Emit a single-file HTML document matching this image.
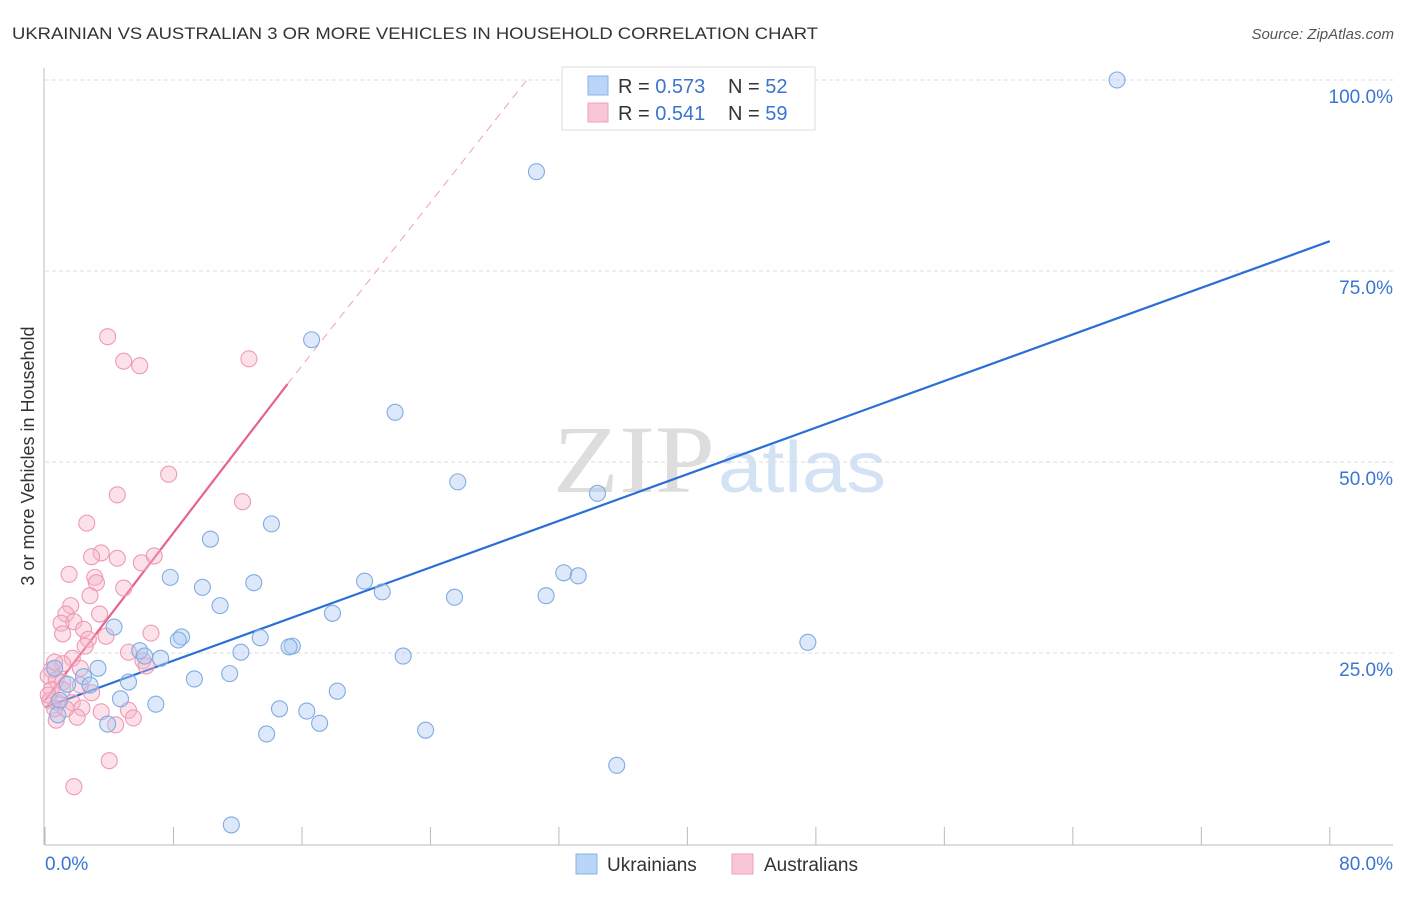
<!DOCTYPE html>
<html><head><meta charset="utf-8"><style>
body{margin:0;background:#fff;font-family:"Liberation Sans",sans-serif}
svg text{font-family:"Liberation Sans",sans-serif}
</style></head><body>
<svg id="chart" width="1406" height="892">
<text x="12" y="39" font-size="17" fill="#333" textLength="806" lengthAdjust="spacingAndGlyphs">UKRAINIAN VS AUSTRALIAN 3 OR MORE VEHICLES IN HOUSEHOLD CORRELATION CHART</text>
<text x="1394" y="39" font-size="15" fill="#555" font-style="italic" text-anchor="end">Source: ZipAtlas.com</text>
<g>
<text x="553" y="492" font-size="96" fill="#ddd" textLength="162" lengthAdjust="spacingAndGlyphs" style="font-family:'Liberation Serif',serif">ZIP</text>
<text x="718" y="492" font-size="72" fill="#d3e2f4" textLength="168" lengthAdjust="spacingAndGlyphs">atlas</text>
</g>
<g id="grid"></g>
<g id="axes"></g>
<g id="lines"></g>
<g id="pts"></g>
<text transform="translate(34,456) rotate(-90)" font-size="18" fill="#333" text-anchor="middle">3 or more Vehicles in Household</text>
<g>
<rect x="562" y="67" width="253" height="63" fill="#fff" stroke="#ddd"/>
<rect x="588" y="76" width="20" height="19" fill="#b8d4f6" stroke="#8ab4e8"/>
<rect x="588" y="103" width="20" height="19" fill="#f9c6d5" stroke="#f0a0b8"/>
<text x="618" y="93" font-size="20" fill="#333">R = <tspan fill="#3a75d0">0.573</tspan><tspan x="728">N = </tspan><tspan fill="#3a75d0">52</tspan></text>
<text x="618" y="120" font-size="20" fill="#333">R = <tspan fill="#3a75d0"> 0.541</tspan><tspan x="728">N = </tspan><tspan fill="#3a75d0">59</tspan></text>
</g>
<g>
<rect x="576" y="854" width="21" height="20" fill="#b8d4f6" stroke="#8ab4e8"/>
<text x="607" y="871" font-size="19" fill="#333">Ukrainians</text>
<rect x="732" y="854" width="21" height="20" fill="#f9c6d5" stroke="#f0a0b8"/>
<text x="764" y="871" font-size="19" fill="#333">Australians</text>
</g>
</svg>
<script>
const blueX=[66.75,30.6,16.6,21.8,25.7,34.4,14.1,10.3,7.8,9.8,13.0,19.9,21.0,32.3,33.2,25.5,31.2,10.9,17.9,4.3,8.5,8.3,13.4,15.4,15.2,12.2,5.9,7.2,6.2,22.3,47.5,3.3,2.4,5.2,2.8,9.3,11.5,18.2,4.7,6.9,14.6,16.3,13.8,17.1,23.7,3.9,35.6,11.6,0.6,0.9,0.8,1.4];
const blueY=[100.0,88.0,66.0,56.5,47.4,45.9,41.9,39.9,34.9,33.6,34.2,34.4,33.0,35.5,35.1,32.3,32.5,31.2,30.2,28.4,27.1,26.7,27.0,25.9,25.8,25.1,25.3,24.3,24.6,24.6,26.4,23.0,21.9,21.2,20.8,21.6,22.3,20.0,19.0,18.3,17.7,17.4,14.4,15.8,14.9,15.7,10.3,2.5,23.0,18.8,16.9,20.9];
const pinkX=[3.9,4.9,5.9,12.7,7.7,4.5,12.3,2.6,3.5,2.9,4.5,6.8,6.0,1.5,3.1,3.2,4.9,2.8,1.6,1.3,3.4,1.8,1.0,2.4,6.6,1.1,3.8,2.7,2.5,5.2,1.7,1.1,6.1,6.3,2.2,0.4,0.2,0.7,1.1,2.9,0.4,0.3,0.8,1.7,2.3,3.5,5.2,2.0,5.5,0.7,4.4,4.0,1.8,0.6,0.2,1.1,0.6,1.3,2.2];
const pinkY=[66.4,63.2,62.6,63.5,48.4,45.7,44.8,42.0,38.1,37.6,37.4,37.7,36.8,35.3,34.9,34.2,33.5,32.5,31.2,30.1,30.1,29.1,28.9,28.1,27.6,27.5,27.2,26.8,25.9,25.1,24.3,23.6,24.0,23.3,23.0,22.8,22.0,21.5,21.2,19.8,20.2,18.8,18.5,18.5,17.8,17.3,17.5,16.6,16.5,16.2,15.6,10.9,7.5,23.8,19.5,20.2,17.7,17.7,20.8];
const blueTrend=[[0,17.9],[80,78.9]];
const pinkTrend=[[0,18.8],[15.1,60.2]];
const pinkDash=[[15.1,60.2],[30,100]];
const yTicks=[25,50,75,100];
const yTickLabels=["25.0%","50.0%","75.0%","100.0%"];
const xTicks=[0,8,16,24,32,40,48,56,64,72,80];
const NS="http://www.w3.org/2000/svg";
const sx=v=>45+v*16.06, sy=v=>844-v*7.64;
function mk(t,a,p){const e=document.createElementNS(NS,t);for(const k in a)e.setAttribute(k,a[k]);p.appendChild(e);return e;}
const grid=document.getElementById('grid'),axes=document.getElementById('axes'),lines=document.getElementById('lines'),pts=document.getElementById('pts');
yTicks.forEach((v,i)=>{const l=mk('line',{x1:45,x2:1393,y1:sy(v),y2:sy(v),stroke:'#ddd','stroke-dasharray':'4,3'},grid);


const t=mk('text',{x:1393,y:sy(v)+23,'font-size':19,fill:'#3a75d0','text-anchor':'end'},axes);t.textContent=yTickLabels[i];

});
mk('line',{x1:44,x2:44,y1:68,y2:845,stroke:'#bbb'},axes);
mk('line',{x1:45,x2:1393,y1:845,y2:845,stroke:'#bbb'},axes);
xTicks.forEach(v=>{const l=mk('line',{x1:sx(v),x2:sx(v),y1:827,y2:845,stroke:'#bbb'},axes);

});
let t0=mk('text',{x:45,y:870,'font-size':19,fill:'#3a75d0'},axes);t0.textContent='0.0%';


let t1=mk('text',{x:1393,y:870,'font-size':19,fill:'#3a75d0','text-anchor':'end'},axes);t1.textContent='80.0%';


function dot(x,y,f,s,n){const c=mk('circle',{cx:sx(x),cy:sy(y),r:8,fill:f,'fill-opacity':0.4,stroke:s,'stroke-width':1.1},pts);

}
pinkX.forEach((x,i)=>dot(x,pinkY[i],'#f7b3c8','#ee9ab4','australians-point'));
blueX.forEach((x,i)=>dot(x,blueY[i],'#a9c9f2','#80ace2','ukrainians-point'));
let b=mk('line',{x1:sx(blueTrend[0][0]),y1:sy(blueTrend[0][1]),x2:sx(blueTrend[1][0]),y2:sy(blueTrend[1][1]),stroke:'#2a6fd6','stroke-width':2.2},lines);


let p=mk('line',{x1:sx(pinkTrend[0][0]),y1:sy(pinkTrend[0][1]),x2:sx(pinkTrend[1][0]),y2:sy(pinkTrend[1][1]),stroke:'#e8628e','stroke-width':2.2},lines);


let d=mk('line',{x1:sx(pinkDash[0][0]),y1:sy(pinkDash[0][1]),x2:sx(pinkDash[1][0]),y2:sy(pinkDash[1][1]),stroke:'#f0a0b8','stroke-width':1,'stroke-dasharray':'8,6'},lines);


</script>
</body></html>
